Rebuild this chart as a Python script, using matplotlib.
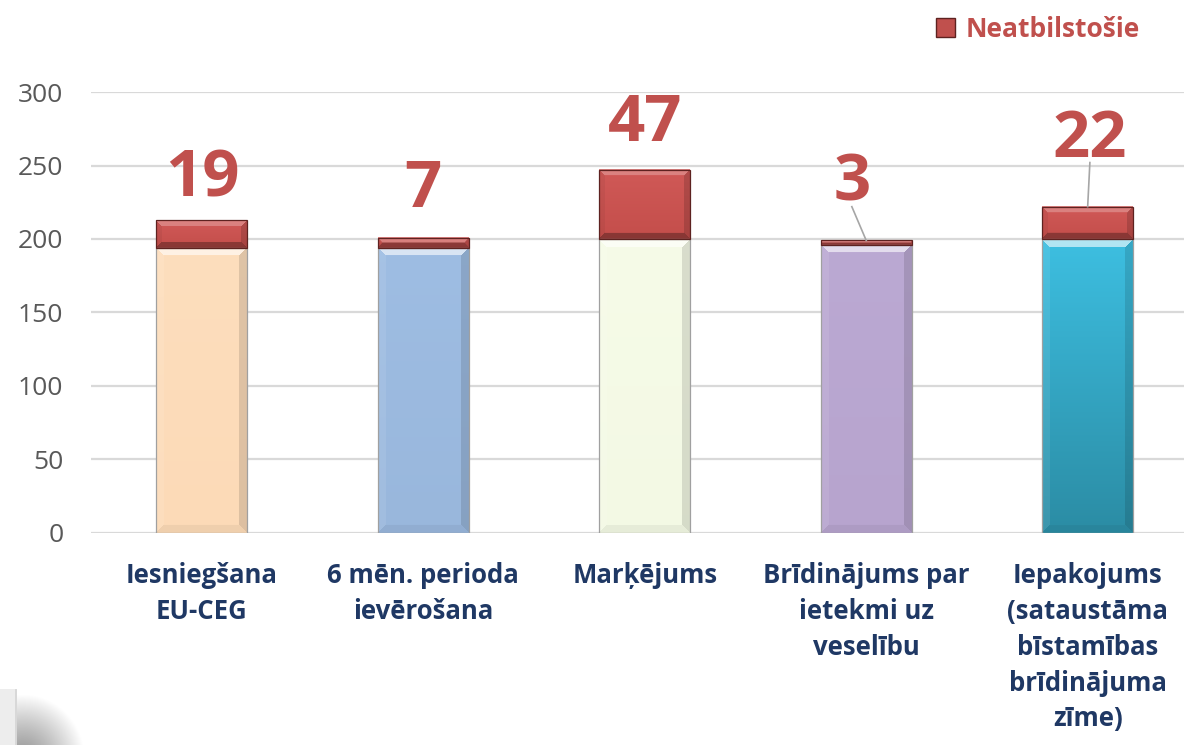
import matplotlib.pyplot as plt
import numpy as np
from matplotlib.colors import to_rgb

categories = ["Iesniegšana\nEU-CEG", "6 mēn. perioda\nievērošana", "Marķējums",
              "Brīdinājums par\nietekmi uz\nveselību",
              "Iepakojums\n(sataustāma\nbīstamības\nbrīdinājuma\nzīme)"]
base_values = [194, 194, 200, 196, 200]
nonconform = [19, 7, 47, 3, 22]
legend_label = "Neatbilstošie"

base_colors = ["#FDDEBD", "#9EBDE3", "#F6FBE8", "#BBA9D3", "#3DBFE1"]
base_bottoms = ["#FCDAB7", "#99B7DC", "#F3F9E4", "#B7A4CE", "#2B8CA4"]
red_top, red_bot = "#D05957", "#C44E4B"
red = "#C0504D"

plt.rcParams['font.family'] = ['Open Sans', 'DejaVu Sans']


def bevel(ax, patch, c_top, c_bot, b=7, mix=None):
    # draw a bevelled, gradient-filled image over a bar patch
    x0, y0 = patch.get_x(), patch.get_y()
    x1, y1 = x0 + patch.get_width(), y0 + patch.get_height()
    (px0, py0), (px1, py1) = ax.transData.transform([(x0, y0), (x1, y1)])
    wpx = max(int(round(px1 - px0)), 2)
    hpx = max(int(round(py1 - py0)), 2)
    yy, xx = np.mgrid[0:hpx, 0:wpx]
    t = (yy / max(hpx - 1, 1))[..., None]
    img = (1 - t) * np.array(to_rgb(c_top)) + t * np.array(to_rgb(c_bot))
    d = np.stack([yy, hpx - 1 - yy, xx, wpx - 1 - xx])
    which = d.argmin(0)
    near = d.min(0) < b
    for k, (tgt, a) in enumerate(mix):
        m = near & (which == k)
        img[m] = img[m] * (1 - a) + tgt * a
    ax.imshow(img, extent=(x0, x1, y0, y1), aspect='auto', origin='upper',
              zorder=3, interpolation='bilinear')


W, K = np.ones(3), np.zeros(3)
base_mix = [(W, 0.6), (K, 0.05), (W, 0.08), (K, 0.12)]
red_mix = [(W, 0.25), (K, 0.3), (K, 0.05), (K, 0.15)]

fig = plt.figure(figsize=(11.84, 7.45), dpi=100)
ax = fig.add_axes([0.077, 0.2846, 0.923, 0.5919])

x = np.arange(len(categories))
w = 0.41
bars_base = ax.bar(x, base_values, w, color='none', edgecolor="#A0A0A0", linewidth=0.9, zorder=4)
bars_red = ax.bar(x, nonconform, w, bottom=base_values, color='none', edgecolor="#5E2220",
                  linewidth=0.9, zorder=4)

ax.set_ylim(0, 300)
ax.set_xlim(-0.5, 4.435)

for p, ct, cb in zip(bars_base, base_colors, base_bottoms):
    bevel(ax, p, ct, cb, b=8, mix=base_mix)
for p in bars_red:
    bevel(ax, p, red_top, red_bot, b=6, mix=red_mix)

ax.set_ylim(0, 300)
ax.set_xlim(-0.5, 4.435)
ax.set_yticks(range(0, 301, 50))
ax.grid(axis='y', color="#D9D9D9", linewidth=1.6, zorder=0)
for s in ax.spines.values():
    s.set_visible(False)
ax.tick_params(axis='y', length=0, labelsize=19, labelcolor="#595959", pad=20)
ax.tick_params(axis='x', length=0)
ax.set_xticks(x)
ax.set_xticklabels(categories, fontsize=18.5, fontweight='bold', color="#1F3864",
                   linespacing=1.42, va='top')
ax.tick_params(axis='x', pad=21)

# value labels: baseline offset above the bar top, leader lines for the set-off ones
label_dy = [16, 21, 20, 27, 34]
label_dx = [0, 0, 0, -0.065, 0.01]
for xi, b, n, dy, dx in zip(x, base_values, nonconform, label_dy, label_dx):
    top = b + n
    ax.text(xi + dx, top + dy, str(n), ha='center', va='baseline', fontsize=47,
            fontweight='bold', color=red, zorder=5, clip_on=False)
    if dy >= 27:
        ax.plot([xi + dx, xi], [top + dy - 4, top],
                color="#A6A6A6", linewidth=1.2, zorder=5)

leg = fig.legend(handles=[plt.Rectangle((0, 0), 1, 1, facecolor=red, edgecolor="#5E2220")],
                 labels=[legend_label], loc='upper right', bbox_to_anchor=(0.976, 1.0),
                 frameon=False, fontsize=19, handlelength=0.7, handleheight=0.7,
                 handletextpad=0.4, borderaxespad=0.2)
for t in leg.get_texts():
    t.set_color(red)
    t.set_fontweight('bold')

# soft grey shadow in the lower left corner
sax = fig.add_axes([0, 0, 0.075, 0.085])
gy, gx = np.mgrid[0:63, 0:89]
r = np.hypot(gx - 22, gy - 75) / 62.0
shade = np.clip(0.6 + 0.4 * r ** 1.3, 0, 1)
shade[:, :16] = 0.93
shade[:, 15:17] = 0.85
shade[:8, :] = np.maximum(shade[:8, :], 1.0)
sax.imshow(np.dstack([shade] * 3), origin='upper', aspect='auto', vmin=0, vmax=1)
sax.axis('off')

fig.savefig("out.png", dpi=100)
